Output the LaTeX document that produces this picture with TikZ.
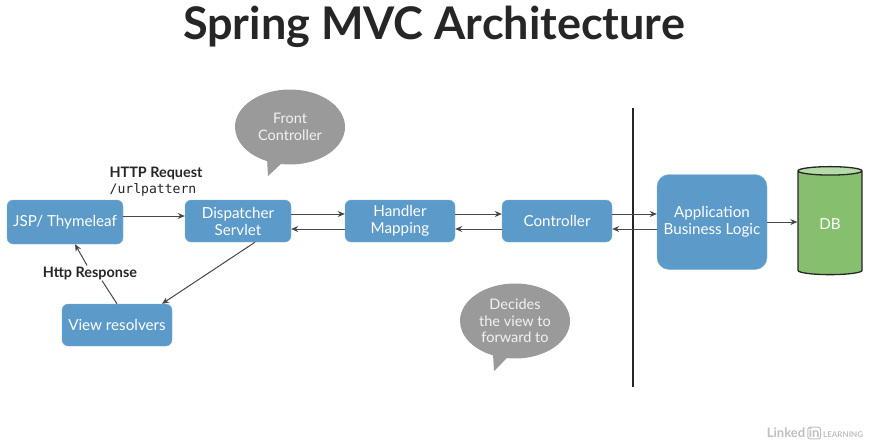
\documentclass[tikz,border=0pt]{standalone}
\usepackage{fontspec}
\setmainfont{Lato}
\setmonofont{DejaVu Sans Mono}
\usetikzlibrary{shapes.geometric,shapes.callouts,arrows.meta}
\definecolor{boxblue}{HTML}{5B9AC9}
\definecolor{boxedge}{HTML}{86B6DC}
\definecolor{dbgreen}{HTML}{86C06E}
\definecolor{dbtop}{HTML}{B5DBA6}
\definecolor{bubble}{HTML}{9A9A9A}
\definecolor{ink}{HTML}{262626}
\tikzset{
    block/.style={draw=boxedge, fill=boxblue, rounded corners=6pt, text=white,
        align=center, inner sep=0pt, minimum width=106pt, minimum height=42pt,
        font=\fontsize{15.2}{17}\selectfont},
    talk/.style={ellipse callout, fill=bubble, text=white!95!black, align=center,
        minimum width=110pt, minimum height=75pt, inner sep=0pt,
        font=\fontsize{14.5}{16.5}\selectfont},
    label/.style={text=ink, font=\bfseries\fontsize{14.4}{16}\selectfont},
    link/.style={draw=ink!85, line width=1pt, -{Stealth[length=7pt, width=6pt]}}
}

\begin{document}
\begin{tikzpicture}[x=1pt, y=-1pt]
        \useasboundingbox[fill=white] (0, 0) rectangle (877, 447);
        % title
        \node[text=ink, font=\bfseries\fontsize{45}{50}\selectfont] (title) at (434, 27) {Spring MVC Architecture};
        % boxes of the request chain
        \node[block, minimum width=116pt, minimum height=44pt] (jsp) at (65, 222) {JSP/ Thymeleaf};
        \node[block] (dispatcher) at (238, 221) {Dispatcher\\Servlet};
        \node[block, minimum width=110pt] (handler) at (400, 221) {Handler\\Mapping};
        \node[block, minimum width=110pt] (controller) at (557, 221) {Controller};
        \node[block, minimum width=110pt, minimum height=95pt, rounded corners=12pt] (logic) at (712, 222) {Application\\Business Logic};
        \node[block, minimum width=110pt] (views) at (117, 325) {View resolvers};
        % data base
        \node[cylinder, shape border rotate=90, aspect=0.3, draw=ink, line width=1.3pt,
            cylinder uses custom fill, cylinder body fill=dbgreen, cylinder end fill=dbtop,
            minimum width=64pt, minimum height=108pt, text=white,
            font=\fontsize{15.2}{17}\selectfont] (db) at (830, 224) {DB};
        % speech bubbles
        \node[talk, callout absolute pointer={(268, 176)}] (front) at (290, 127) {Front\\Controller};
        \node[talk, callout absolute pointer={(494, 371)}] (decides) at (515, 321) {Decides\\the view to\\forward to};
        % boundary of the web layer
        \coordinate (wallTop) at (633, 108);
        \coordinate (wallEnd) at (633, 387);
        \draw[line width=2.2pt, ink] (wallTop) -- (wallEnd);
        % labels
        \node[label] (request) at (156, 173) {HTTP Request};
        \node[text=ink, font=\ttfamily\fontsize{13.1}{15}\selectfont] (pattern) at (153, 190) {/urlpattern};
        % arrows along the chain
        \draw[link] ([yshift=6pt]jsp.east) -- ([yshift=6pt]jsp.east -| dispatcher.west);
        \draw[link] ([yshift=7pt]dispatcher.east) -- ([yshift=7pt]dispatcher.east -| handler.west);
        \draw[link] ([yshift=-8pt]handler.west) -- ([yshift=-8pt]handler.west -| dispatcher.east);
        \draw[link] ([yshift=7pt]handler.east) -- ([yshift=7pt]handler.east -| controller.west);
        \draw[link] ([yshift=-8pt]controller.west) -- ([yshift=-8pt]controller.west -| handler.east);
        \draw[link] ([yshift=7pt]controller.east) -- ([yshift=7pt]controller.east -| logic.west);
        \draw[link] ([yshift=-7pt]logic.west) -- ([yshift=-7pt]logic.west -| controller.east);
        \draw[link] (logic.east) -- (logic.east -| db.west);
        % way back to the page
        \draw[link] ([xshift=17pt]dispatcher.south) -- ([xshift=45pt]views.north);
        \node[label, fill=white, inner sep=1pt] (response) at (90, 273) {Http Response};
        \draw[ink!85, line width=1pt] (views.north) -- (response.south -| 102, 0);
        \draw[link] (response.north -| 87, 0) -- ([xshift=10pt]jsp.south);
        % watermark
        \node[text=black!25, font=\bfseries\fontsize{13}{15}\selectfont, inner sep=0pt] (mark) at (815, 433)
            {Linked\,\tikz[baseline=0pt]\node[draw=black!25, line width=1pt, rounded corners=2pt, inner sep=1pt, anchor=base] {in};\,{\fontsize{8}{9}\selectfont LEARNING}};
\end{tikzpicture}
\end{document}
